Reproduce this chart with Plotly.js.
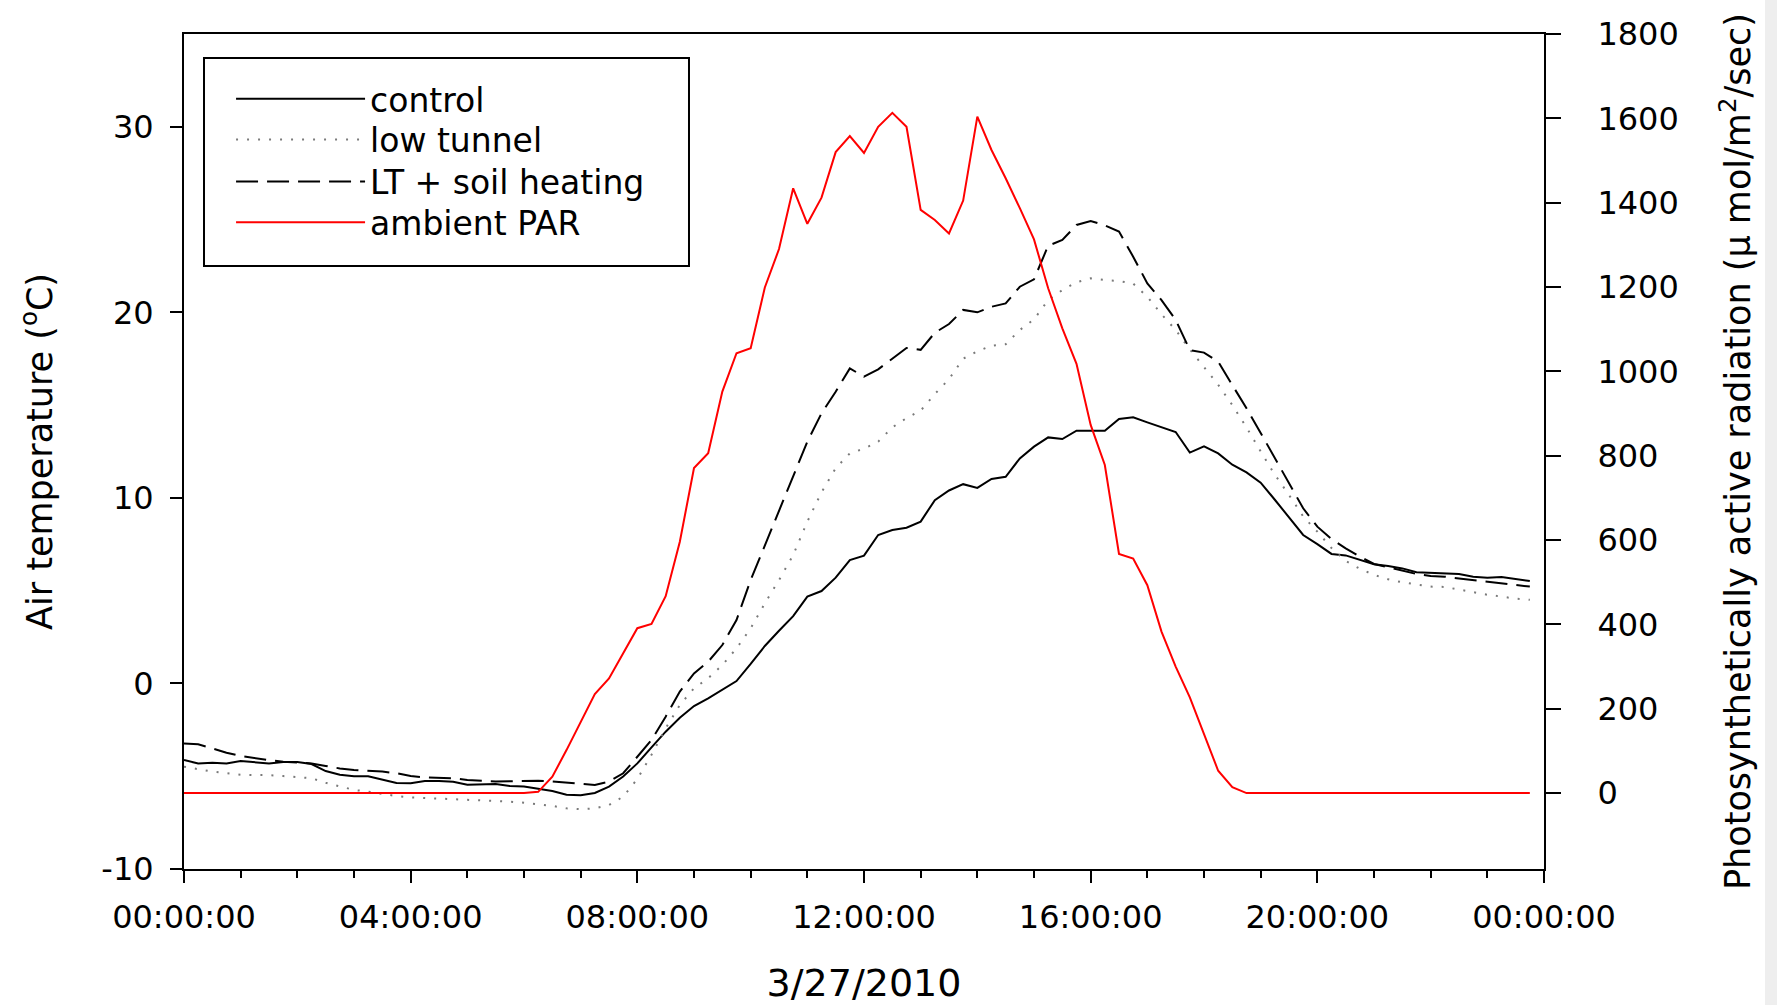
<!DOCTYPE html>
<html>
<head>
<meta charset="utf-8">
<script src="https://cdn.plot.ly/plotly-3.0.1.min.js"></script>
<style>
  html, body { margin: 0; padding: 0; background: #fff; }
  #chart { width: 1777px; height: 1005px; }
</style>
</head>
<body>
<div id="chart"></div>
<script>
// ---- Data (15-minute readings, 3/27/2010, 00:00 to 23:45) ----
const startTime = '2010-03-27 00:00:00';
const endTime = '2010-03-28 00:00:00';
const stepMinutes = 15;

const control = [
  -4.13,-4.31,-4.27,-4.31,-4.18,-4.23,-4.31,-4.23,-4.23,-4.34,
  -4.72,-4.92,-5.00,-5.00,-5.20,-5.37,-5.38,-5.26,-5.26,-5.30,
  -5.46,-5.46,-5.42,-5.53,-5.56,-5.67,-5.80,-6.00,-6.02,-5.90,
  -5.56,-5.02,-4.31,-3.45,-2.60,-1.85,-1.22,-0.80,-0.35,0.13,
  1.05,2.02,2.84,3.63,4.68,4.98,5.70,6.65,6.89,8.00,
  8.27,8.39,8.72,9.88,10.40,10.74,10.54,11.02,11.14,12.13,
  12.76,13.26,13.17,13.62,13.62,13.62,14.25,14.34,14.07,13.80,
  13.55,12.44,12.78,12.40,11.79,11.37,10.82,9.90,8.95,8.00,
  7.51,6.98,6.90,6.65,6.42,6.33,6.20,5.99,5.95,5.95,
  5.90,5.75,5.70,5.74,5.61,5.52
];

const lowTunnel = [
  -4.49,-4.63,-4.75,-4.84,-4.92,-4.94,-4.94,-4.99,-5.03,-5.11,
  -5.35,-5.56,-5.74,-5.83,-5.96,-6.07,-6.14,-6.17,-6.21,-6.25,
  -6.28,-6.31,-6.33,-6.37,-6.43,-6.50,-6.60,-6.73,-6.78,-6.73,
  -6.55,-6.10,-5.15,-3.85,-2.42,-1.16,-0.26,0.28,0.99,1.89,
  2.97,4.32,5.57,6.92,8.72,10.30,11.60,12.40,12.65,13.03,
  13.80,14.30,14.70,15.60,16.40,17.50,17.90,18.20,18.28,19.05,
  19.62,20.66,21.20,21.62,21.83,21.74,21.69,21.55,20.84,19.90,
  19.05,18.00,17.05,16.10,15.00,13.80,12.50,11.25,10.16,9.00,
  8.18,7.30,6.60,6.18,5.85,5.61,5.45,5.34,5.22,5.20,
  5.05,4.93,4.78,4.68,4.57,4.51
];

const ltSoilHeating = [
  -3.23,-3.28,-3.50,-3.73,-3.91,-4.04,-4.13,-4.22,-4.25,-4.31,
  -4.45,-4.58,-4.66,-4.70,-4.75,-4.84,-4.99,-5.06,-5.09,-5.11,
  -5.20,-5.25,-5.29,-5.27,-5.25,-5.24,-5.28,-5.35,-5.42,-5.47,
  -5.29,-4.84,-3.95,-3.05,-1.79,-0.44,0.54,1.17,2.07,3.42,
  5.57,7.46,9.35,11.14,13.03,14.56,15.72,16.98,16.53,16.93,
  17.52,18.08,17.98,18.90,19.37,20.13,20.00,20.30,20.48,21.38,
  21.78,23.59,23.90,24.71,24.92,24.69,24.35,23.00,21.56,20.66,
  19.59,17.97,17.83,17.34,16.08,14.83,13.50,12.13,10.80,9.44,
  8.45,7.78,7.28,6.83,6.44,6.26,6.08,5.90,5.79,5.75,
  5.66,5.57,5.45,5.36,5.29,5.22
];

const ambientPAR = [
  0,0,0,0,0,0,0,0,0,0,
  0,0,0,0,0,0,0,0,0,0,
  0,0,0,0,0,3,39,102,169,235,
  272,330,391,401,467,596,771,806,952,1043,
  1055,1199,1290,1434,1350,1412,1520,1558,1518,1580,
  1613,1580,1383,1359,1327,1405,1604,1525,1458,1387,
  1313,1197,1102,1018,873,778,567,556,493,383,
  300,227,138,53,14,0,0,0,0,0,
  0,0,0,0,0,0,0,0,0,0,
  0,0,0,0,0,0
];

const seriesNames = ['control', 'low tunnel', 'LT + soil heating', 'ambient PAR'];
const tempTickVals = [-10, 0, 10, 20, 30];
const tempTickText = ['-10', '0', '10', '20', '30'];
const parTickVals = [0, 200, 400, 600, 800, 1000, 1200, 1400, 1600, 1800];
const parTickText = ['0', '200', '400', '600', '800', '1000', '1200', '1400', '1600', '1800'];
const xTitle = '3/27/2010';
const yTitle = 'Air temperature (<sup>o</sup>C)';
const y2Title = 'Photosynthetically active radiation (\u03bc mol/m<sup>2</sup>/sec)';

// timestamps for each reading
function pad(n) { return (n < 10 ? '0' : '') + n; }
const times = control.map(function (_, i) {
  const m = i * stepMinutes;
  return '2010-03-27 ' + pad(Math.floor(m / 60)) + ':' + pad(m % 60) + ':00';
});

const FONT = 'DejaVu Sans, Verdana, sans-serif';

const traces = [
  { x: times, y: control, name: seriesNames[0], type: 'scatter', mode: 'lines',
    line: { color: '#000000', width: 2 }, yaxis: 'y', legend: 'legend' },
  { x: times, y: lowTunnel, name: seriesNames[1], type: 'scatter', mode: 'lines',
    line: { color: '#7a7a7a', width: 2, dash: '2px,9px' }, yaxis: 'y', legend: 'legend2' },
  { x: times, y: ltSoilHeating, name: seriesNames[2], type: 'scatter', mode: 'lines',
    line: { color: '#000000', width: 2, dash: '22px,9px' }, yaxis: 'y', legend: 'legend3' },
  { x: times, y: ambientPAR, name: seriesNames[3], type: 'scatter', mode: 'lines',
    line: { color: '#ff0000', width: 2 }, yaxis: 'y2', legend: 'legend4' }
];

function legendRow(yPaper) {
  return {
    x: 0.0346, y: yPaper, xanchor: 'left', yanchor: 'top',
    bgcolor: 'rgba(0,0,0,0)', borderwidth: 0,
    font: { family: FONT, size: 33, color: '#000' },
    itemwidth: 129, tracegroupgap: 0
  };
}

const layout = {
  width: 1777, height: 1005,
  margin: { l: 184, r: 233, t: 34, b: 136, pad: 0 },
  paper_bgcolor: '#ffffff', plot_bgcolor: '#ffffff',
  font: { family: FONT, color: '#000000', size: 32 },
  showlegend: true,
  hovermode: false,
  legend: legendRow(0.9560),
  legend2: legendRow(0.9072),
  legend3: legendRow(0.8569),
  legend4: legendRow(0.8080),
  xaxis: {
    type: 'date',
    range: [startTime, endTime],
    tick0: startTime, dtick: 4 * 3600000,
    tickformat: '%H:%M:%S',
    ticks: 'outside', ticklen: 12, tickwidth: 2, tickcolor: '#000',
    minor: { dtick: 3600000, ticks: 'outside', ticklen: 7, tickwidth: 2, tickcolor: '#000', showgrid: false },
    showline: true, linewidth: 2, linecolor: '#000', mirror: true,
    showgrid: false, zeroline: false,
    ticklabelstandoff: 7,
    tickfont: { family: FONT, size: 32 },
    title: { text: xTitle, font: { family: FONT, size: 38 }, standoff: 39 }
  },
  yaxis: {
    range: [-10, 35],
    tickvals: tempTickVals, ticktext: tempTickText,
    ticks: 'outside', ticklen: 12, tickwidth: 2, tickcolor: '#000',
    showline: true, linewidth: 2, linecolor: '#000', mirror: false,
    showgrid: false, zeroline: false,
    ticklabelstandoff: 10,
    tickfont: { family: FONT, size: 32 },
    title: { text: yTitle, font: { family: FONT, size: 35 }, standoff: 38 }
  },
  yaxis2: {
    overlaying: 'y', side: 'right',
    range: [-180, 1800],
    tickvals: parTickVals, ticktext: parTickText,
    ticks: 'outside', ticklen: 15, tickwidth: 2, tickcolor: '#000',
    showline: true, linewidth: 2, linecolor: '#000',
    showgrid: false, zeroline: false,
    ticklabelstandoff: 30,
    tickfont: { family: FONT, size: 32 },
    title: { text: y2Title, font: { family: FONT, size: 35 }, standoff: 48 }
  },
  shapes: [
    { type: 'rect', xref: 'paper', yref: 'paper', layer: 'below',
      x0: 0.01471, x1: 0.37132, y0: 0.72216, y1: 0.97126,
      line: { color: '#000', width: 2 }, fillcolor: 'rgba(0,0,0,0)' },
    { type: 'rect', xref: 'paper', yref: 'paper', layer: 'below',
      x0: 1.1625, x1: 1.18, y0: -0.17, y1: 1.05,
      line: { width: 0 }, fillcolor: '#eeeeee' }
  ]
};

Plotly.newPlot('chart', traces, layout, { displayModeBar: false, staticPlot: true });
</script>
</body>
</html>
